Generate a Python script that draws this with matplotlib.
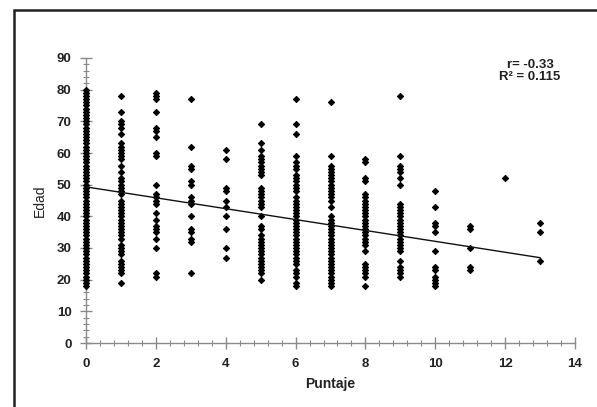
import matplotlib
matplotlib.use("Agg")
import matplotlib.pyplot as plt
from matplotlib.patches import Rectangle
from matplotlib.ticker import MultipleLocator

plt.rcParams['font.family'] = ['Liberation Sans', 'DejaVu Sans']

# Edad values per Puntaje score
edad_0 = [18, 19, 20, 21, 22, 23, 24, 25, 26, 27, 28, 29, 30, 31, 32, 33, 34, 35, 36, 37,
          38, 39, 40, 41, 42, 43, 44, 45, 46, 47, 48, 49, 50, 51, 52, 53, 54, 55, 56, 57,
          58, 59, 60, 61, 62, 63, 64, 65, 66, 67, 68, 69, 70, 71, 72, 73, 74, 75, 76, 77,
          78, 79, 80]
edad_1 = [19, 22, 23, 24, 25, 26, 28, 29, 30, 31, 33, 34, 35, 36, 37, 38, 39, 40, 41, 42,
          43, 44, 45, 47, 48, 49, 50, 51, 52, 54, 56, 58, 59, 60, 61, 62, 63, 66, 68, 69,
          70, 73, 78]
edad_2 = [21, 22, 30, 33, 35, 36, 37, 39, 41, 44, 45, 46, 47, 50, 59, 60, 65, 67, 68, 73,
          77, 78, 79]
edad_3 = [22, 32, 33, 35, 36, 40, 44, 45, 46, 50, 51, 55, 56, 62, 77]
edad_4 = [27, 30, 36, 40, 43, 45, 48, 49, 58, 61]
edad_5 = [20, 22, 23, 24, 25, 26, 27, 28, 29, 30, 31, 32, 33, 34, 36, 37, 40, 43, 44, 45,
          46, 47, 48, 49, 53, 54, 55, 56, 57, 58, 59, 61, 63, 69]
edad_6 = [18, 19, 21, 22, 23, 25, 26, 27, 28, 29, 30, 31, 32, 33, 34, 35, 36, 37, 38, 39,
          40, 41, 42, 43, 44, 45, 46, 48, 49, 50, 51, 52, 53, 55, 56, 57, 59, 66, 69, 77]
edad_7 = [18, 19, 20, 21, 22, 23, 24, 25, 26, 27, 28, 29, 30, 31, 32, 33, 34, 35, 36, 37,
          38, 39, 40, 43, 45, 46, 47, 48, 49, 50, 51, 52, 53, 54, 55, 56, 59, 76]
edad_8 = [18, 21, 22, 23, 24, 25, 29, 31, 32, 33, 34, 35, 36, 37, 38, 39, 40, 41, 42, 43,
          44, 45, 46, 47, 51, 52, 57, 58]
edad_9 = [21, 22, 23, 24, 26, 29, 30, 31, 32, 33, 34, 35, 36, 37, 38, 39, 40, 41, 42, 43,
          44, 50, 52, 54, 55, 56, 59, 78]
edad_10 = [18, 19, 20, 21, 23, 24, 29, 35, 37, 38, 43, 48]
edad_11 = [23, 24, 30, 36, 37]
edad_12 = [52]
edad_13 = [26, 35, 38]

puntaje_groups = {0: edad_0, 1: edad_1, 2: edad_2, 3: edad_3, 4: edad_4, 5: edad_5,
                  6: edad_6, 7: edad_7, 8: edad_8, 9: edad_9, 10: edad_10,
                  11: edad_11, 12: edad_12, 13: edad_13}

trend_intercept = 49.3
trend_slope = -1.72
trend_x = [0, 13]
annotation = "r= -0.33\nR² = 0.115"

fig = plt.figure(figsize=(5.97, 4.07), dpi=100)
fig.patch.set_facecolor('white')

# outer frame
fig.patches.append(Rectangle((14 / 597, -0.2), 1.2, 1 - 10 / 407 + 0.2,
                             transform=fig.transFigure, fill=False,
                             edgecolor='#222222', linewidth=1.8))

ax = fig.add_axes([86 / 597, 1 - 343 / 407, (575 - 86) / 597, (343 - 58) / 407])

xs, ys = [], []
for p, vals in puntaje_groups.items():
    xs.extend([p] * len(vals))
    ys.extend(vals)
ax.plot(xs, ys, linestyle='none', marker='D', markersize=3.3, color='black',
        markeredgewidth=0.6, clip_on=False, zorder=3)

ty = [trend_intercept + trend_slope * x for x in trend_x]
ax.plot(trend_x, ty, color='#111111', linewidth=1.0, zorder=4)

ax.set_xlim(0, 14)
ax.set_ylim(0, 90)
ax.xaxis.set_major_locator(MultipleLocator(2))
ax.xaxis.set_minor_locator(MultipleLocator(0.4))
ax.yaxis.set_major_locator(MultipleLocator(10))
ax.yaxis.set_minor_locator(MultipleLocator(2))

for s in ['top', 'right']:
    ax.spines[s].set_visible(False)
for s in ['left', 'bottom']:
    ax.spines[s].set_color('#8a8a8a')
    ax.spines[s].set_linewidth(1.0)

ax.tick_params(which='major', direction='inout', length=9, width=1, color='#8a8a8a',
               labelsize=9.5, pad=6)
ax.tick_params(which='minor', direction='inout', length=5, width=0.8, color='#8a8a8a')
for lab in ax.get_xticklabels() + ax.get_yticklabels():
    lab.set_fontweight('bold')
    lab.set_color('#222222')

ax.set_xlabel('Puntaje', fontsize=10, fontweight='bold', color='#222222', labelpad=5)
ax.set_ylabel('Edad', fontsize=10, color='#222222', labelpad=7)

fig.text(530 / 597, 1 - 71 / 407, annotation, ha='center', va='center',
         fontsize=9.5, fontweight='bold', color='#222222', linespacing=1.05)

fig.savefig('out.png', dpi=100, facecolor='white')
